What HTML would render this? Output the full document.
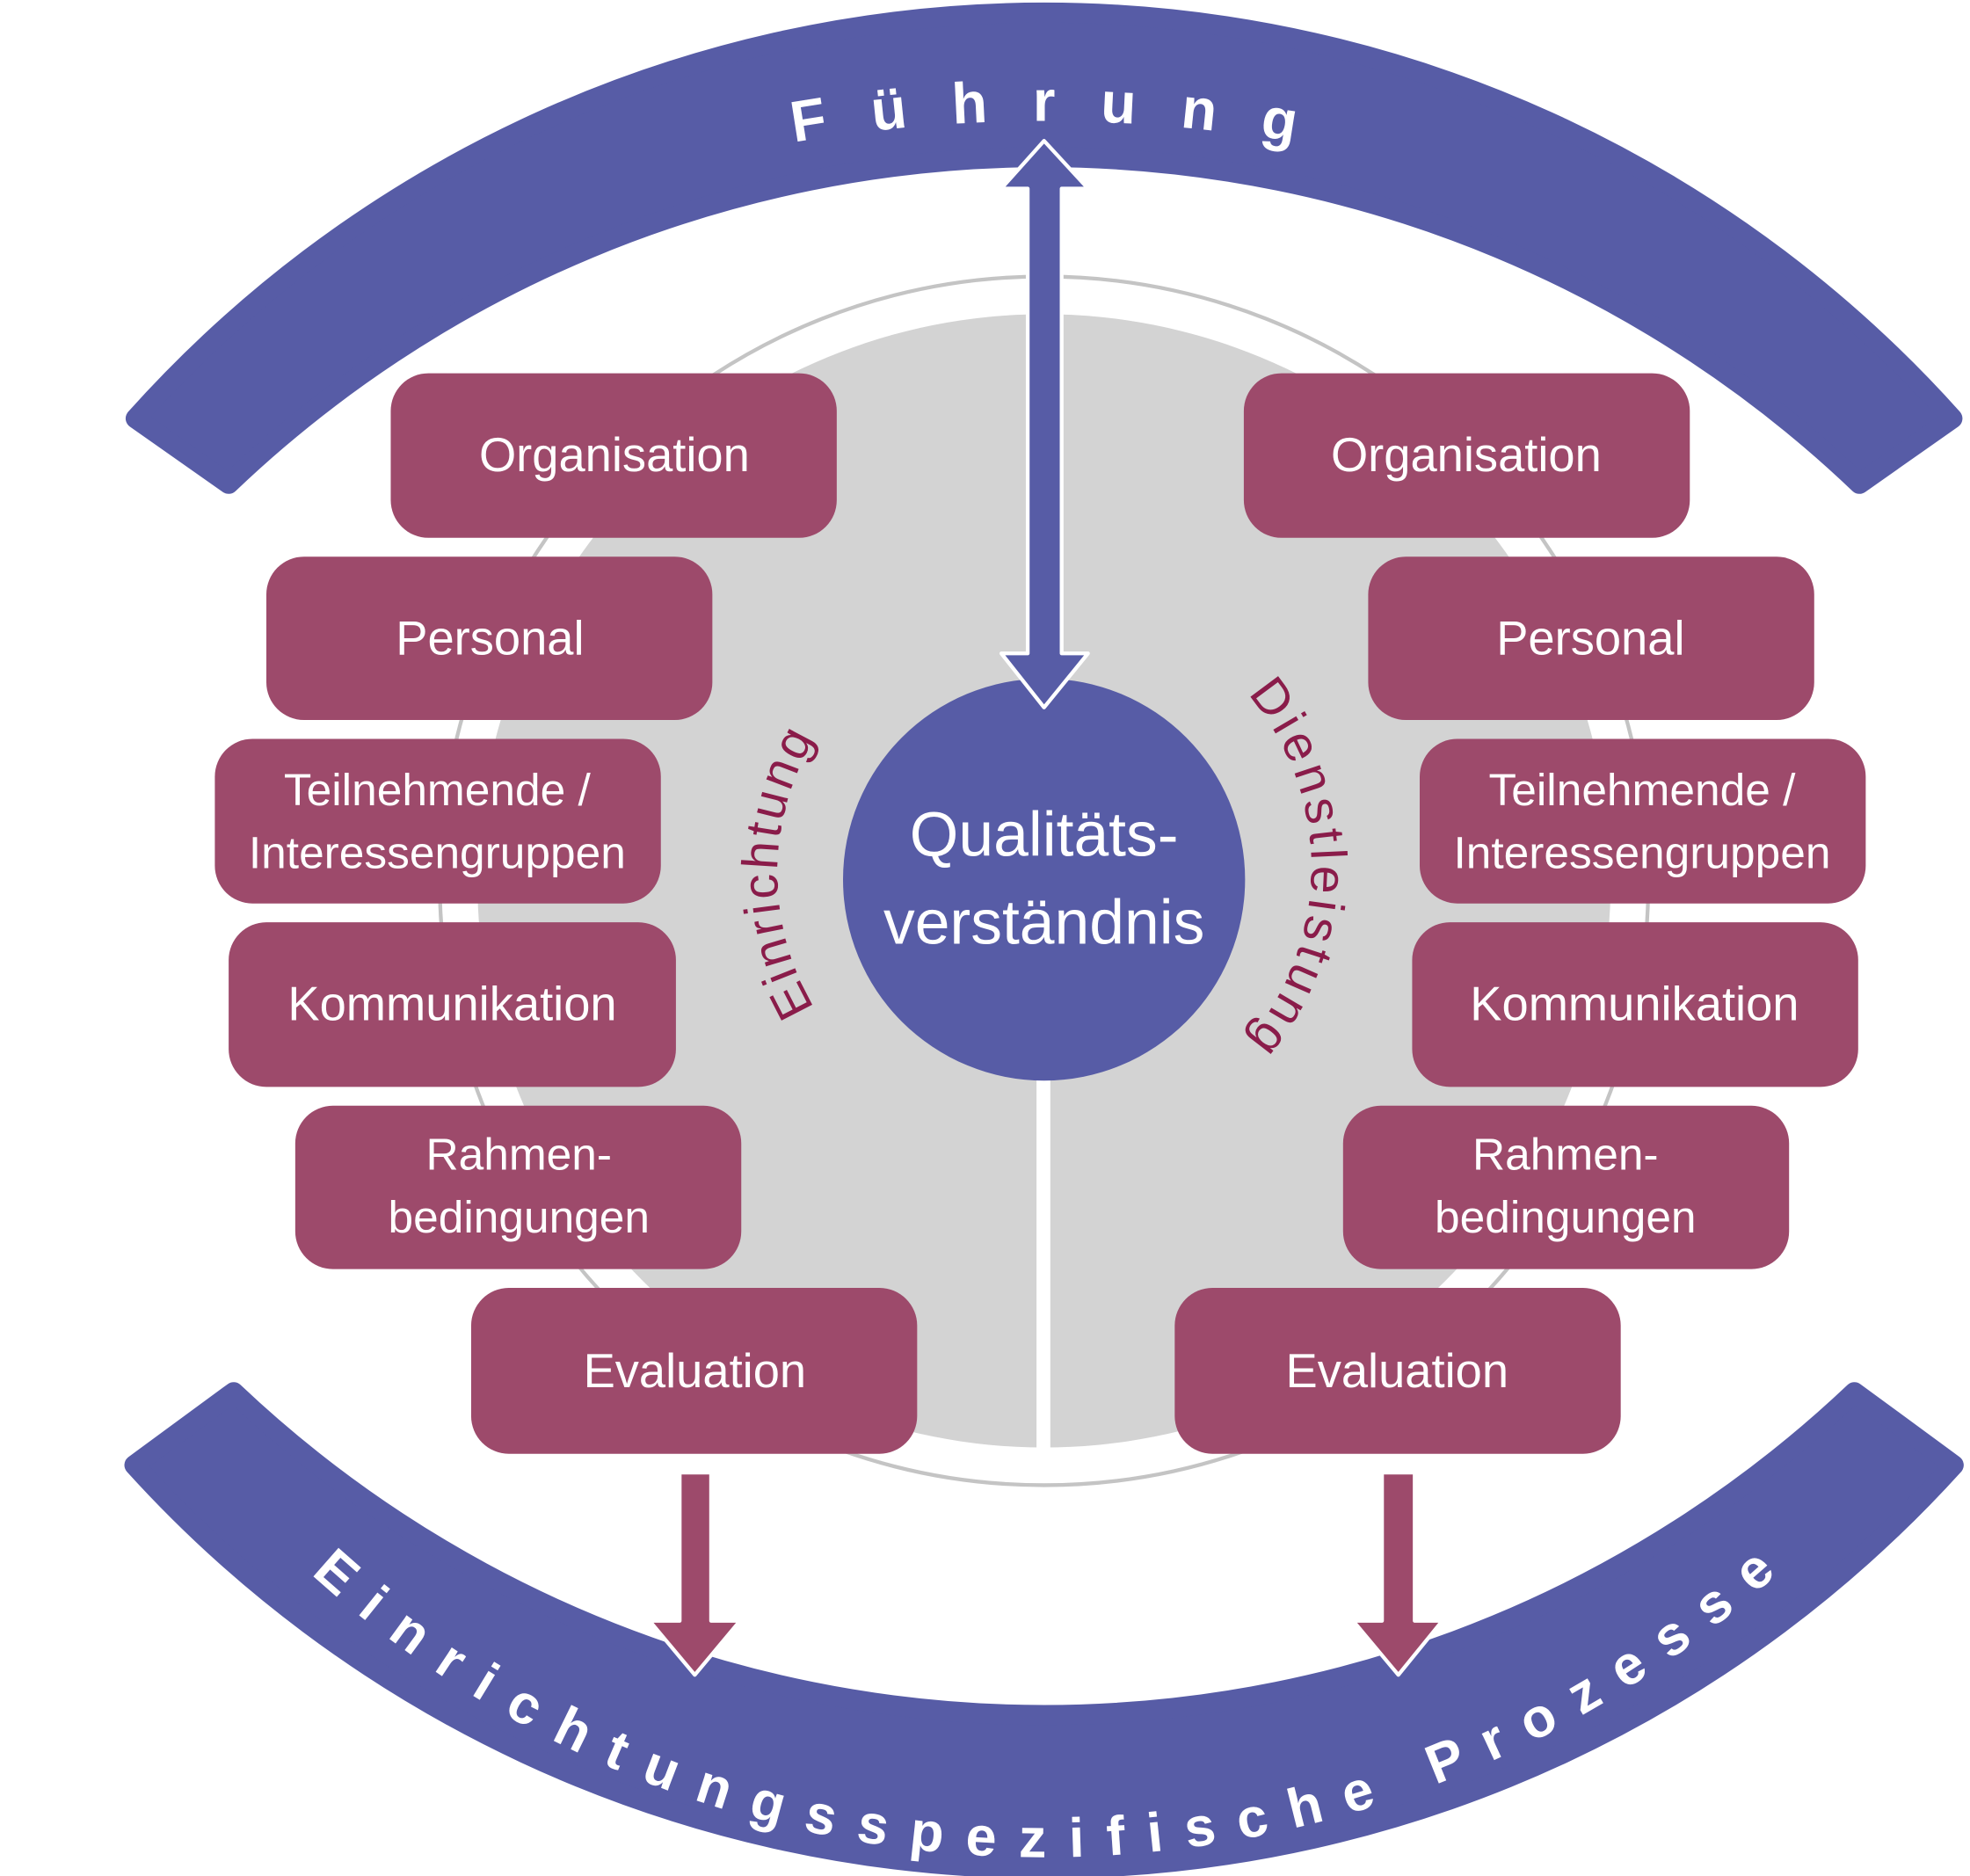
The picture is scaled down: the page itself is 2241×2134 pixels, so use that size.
<!DOCTYPE html>
<html><head><meta charset="utf-8"><style>
html,body{margin:0;padding:0;background:#fff;}
svg{display:block;}
.bt{font-family:"Liberation Sans",sans-serif;fill:#fff;text-anchor:middle;}
</style></head><body>
<svg width="2241" height="2134" viewBox="0 0 1568 1493" xmlns="http://www.w3.org/2000/svg">
<defs>
<path id="ptop" d="M238.5,255 A1185,1185 0 0 1 1423.5,255"/>
<path id="pbot" d="M166,1168 A868,868 0 0 0 1496,1168"/>
<path id="pein" d="M650,805 A209,209 0 0 1 650,585"/>
<path id="pdie" d="M991,550 A212,212 0 0 1 991,830"/>
</defs>
<!-- top band -->
<path d="M108,333 A970.6,970.6 0 0 1 1554,333 L1480,385 A940,940 0 0 0 182,385 Z" fill="#575ca6" stroke="#575ca6" stroke-width="16" stroke-linejoin="round"/>
<!-- bottom band -->
<path d="M186,1108 A938,938 0 0 0 1476,1108 L1555,1166 A976.8,976.8 0 0 1 107,1166 Z" fill="#575ca6" stroke="#575ca6" stroke-width="16" stroke-linejoin="round"/>
<text font-family="Liberation Sans,sans-serif" font-weight="bold" font-size="46" fill="#fff" text-anchor="middle"><textPath href="#ptop" startOffset="50%" textLength="400" lengthAdjust="spacing">Führung</textPath></text>
<text font-family="Liberation Sans,sans-serif" font-weight="bold" font-size="44" fill="#fff" text-anchor="middle"><textPath href="#pbot" startOffset="50%" textLength="1280" lengthAdjust="spacing">Einrichtungsspezifische Prozesse</textPath></text>
<!-- grey ring and disc -->
<circle cx="831" cy="701" r="481" fill="none" stroke="#c4c4c4" stroke-width="3"/>
<circle cx="831" cy="701" r="451" fill="#d3d3d3"/>
<rect x="825" y="240" width="11" height="920" fill="#fff"/>
<!-- center circle -->
<circle cx="831" cy="700" r="160" fill="#575ca6"/>
<text class="bt" font-size="50" x="831" y="681">Qualitäts-</text>
<text class="bt" font-size="50" x="831" y="751">verständnis</text>
<!-- curved labels -->
<text font-family="Liberation Sans,sans-serif" font-size="40" fill="#8a1c4a" text-anchor="middle"><textPath href="#pein" startOffset="50%" textLength="225" lengthAdjust="spacing">Einrichtung</textPath></text>
<text font-family="Liberation Sans,sans-serif" font-size="40" fill="#8a1c4a" text-anchor="middle"><textPath href="#pdie" startOffset="50%" textLength="300" lengthAdjust="spacing">Dienstleistung</textPath></text>
<!-- double arrow -->
<path d="M831,112 L866,150 L845,150 L845,520 L866,520 L831,563 L797,520 L818,520 L818,150 L797,150 Z" fill="#575ca6" stroke="#fff" stroke-width="3" stroke-linejoin="round"/>
<!-- boxes -->
<g fill="#9d4a6b">
<rect x="311" y="297" width="355" height="131" rx="30"/>
<rect x="212" y="443" width="355" height="130" rx="30"/>
<rect x="171" y="588" width="355" height="131" rx="30"/>
<rect x="182" y="734" width="356" height="131" rx="30"/>
<rect x="235" y="880" width="355" height="130" rx="30"/>
<rect x="375" y="1025" width="355" height="132" rx="30"/>
<rect x="990" y="297" width="355" height="131" rx="30"/>
<rect x="1089" y="443" width="355" height="130" rx="30"/>
<rect x="1130" y="588" width="355" height="131" rx="30"/>
<rect x="1124" y="734" width="355" height="131" rx="30"/>
<rect x="1069" y="880" width="355" height="130" rx="30"/>
<rect x="935" y="1025" width="355" height="132" rx="30"/>
</g>
<g class="bt" font-size="38">
<text x="489" y="375">Organisation</text>
<text x="390" y="521">Personal</text>
<text x="360" y="812">Kommunikation</text>
<text x="553" y="1104">Evaluation</text>
<text x="1167" y="375">Organisation</text>
<text x="1266" y="521">Personal</text>
<text x="1301" y="812">Kommunikation</text>
<text x="1112" y="1104">Evaluation</text>
</g>
<g class="bt" font-size="36">
<text x="348" y="641">Teilnehmende /</text>
<text x="348" y="691">Interessengruppen</text>
<text x="413" y="931">Rahmen-</text>
<text x="413" y="981">bedingungen</text>
<text x="1307" y="641">Teilnehmende /</text>
<text x="1307" y="691">Interessengruppen</text>
<text x="1246" y="931">Rahmen-</text>
<text x="1246" y="981">bedingungen</text>
</g>
<!-- down arrows -->
<path d="M541,1172 L566,1172 L566,1290 L589,1290 L553,1333 L517,1290 L541,1290 Z" fill="#9d4a6b" stroke="#fff" stroke-width="3" stroke-linejoin="round"/>
<path d="M1100,1172 L1126,1172 L1126,1290 L1148,1290 L1113,1333 L1077,1290 L1100,1290 Z" fill="#9d4a6b" stroke="#fff" stroke-width="3" stroke-linejoin="round"/>
</svg>
</body></html>
